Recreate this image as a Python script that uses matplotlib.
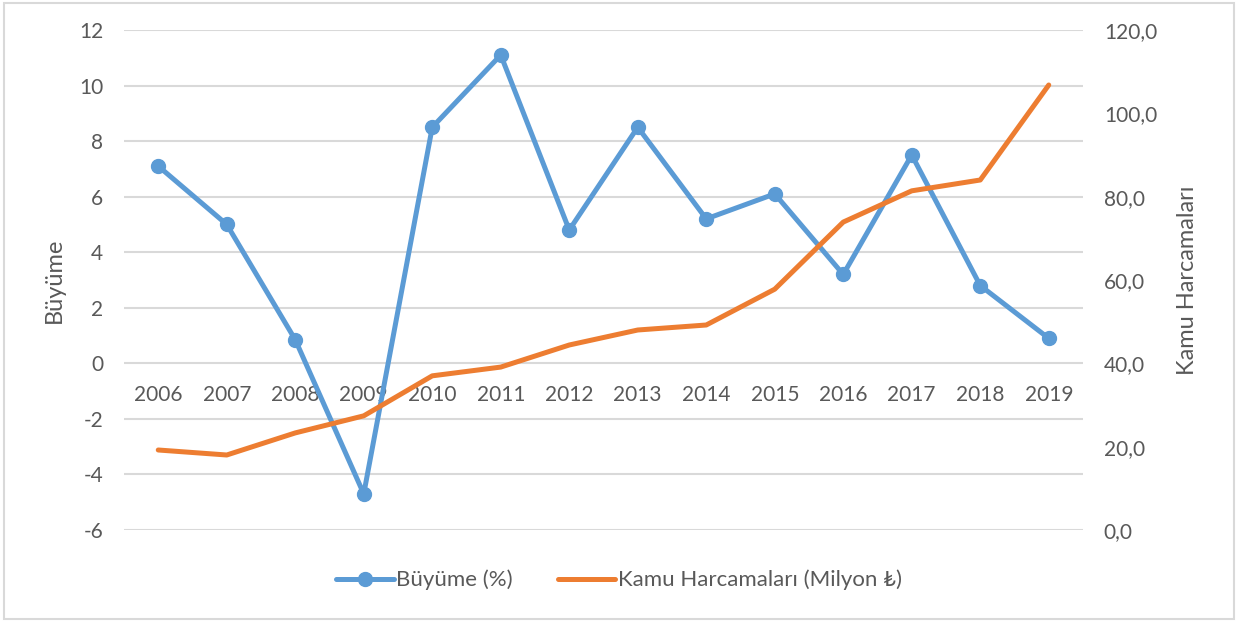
import matplotlib
matplotlib.use("Agg")
import matplotlib.pyplot as plt
from matplotlib.patches import Rectangle
from matplotlib.ticker import FuncFormatter, FixedLocator

plt.rcParams['font.family'] = ['Lato', 'DejaVu Sans']
plt.rcParams['axes.unicode_minus'] = False

years = ['2006', '2007', '2008', '2009', '2010', '2011', '2012',
         '2013', '2014', '2015', '2016', '2017', '2018', '2019']
growth = [7.1, 5.0, 0.85, -4.7, 8.5, 11.1, 4.8, 8.5, 5.2, 6.1, 3.2, 7.5, 2.8, 0.9]
spending = [19.2, 18.0, 23.3, 27.4, 37.0, 39.1, 44.4, 48.0, 49.2, 57.8, 73.9, 81.4, 84.0, 106.8]

left_ticks = [-6, -4, -2, 0, 2, 4, 6, 8, 10, 12]
right_ticks = [0, 20, 40, 60, 80, 100, 120]

blue = '#5b9bd5'
orange = '#ed7d31'
txt = '#595959'
grid = '#d9d9d9'

fig = plt.figure(figsize=(12.38, 6.21), dpi=100)
fig.patches.append(Rectangle((0.003, 0.004), 0.994, 0.991, transform=fig.transFigure,
                             fill=False, edgecolor=grid, linewidth=1.5))

ax = fig.add_axes([124/1238, (621-530)/621, (1083-124)/1238, 500/621])
x = list(range(len(years)))

ax.set_ylim(-6, 12)
ax.set_xlim(-0.5, len(years) - 0.5)
ax.yaxis.set_major_locator(FixedLocator(left_ticks))
for t in left_ticks:
    ax.axhline(t, color=grid, linewidth=1.5, zorder=0)
for s in ax.spines.values():
    s.set_visible(False)
ax.set_xticks([])
ax.tick_params(axis='y', length=0, pad=15, labelsize=15, labelcolor=txt)
ax.set_ylabel('Büyüme', fontsize=17, color=txt, labelpad=10)

for xi, yr in zip(x, years):
    ax.text(xi, -1.15, yr, ha='center', va='center', fontsize=15, color=txt)

ln1, = ax.plot(x, growth, color=blue, linewidth=3.6, marker='o', markersize=10,
               solid_capstyle='round', label='Büyüme (%)', zorder=3)

ax2 = ax.twinx()
ax2.set_ylim(0, 120)
ax2.yaxis.set_major_locator(FixedLocator(right_ticks))
ax2.yaxis.set_major_formatter(FuncFormatter(lambda v, p: f"{v:.1f}".replace('.', ',')))
for s in ax2.spines.values():
    s.set_visible(False)
ax2.tick_params(axis='y', length=0, pad=15, labelsize=15, labelcolor=txt)
ax2.set_ylabel('Kamu Harcamaları', fontsize=17, color=txt, labelpad=14)
ln2, = ax2.plot(x, spending, color=orange, linewidth=3.6, solid_capstyle='round',
                label='Kamu Harcamaları (Milyon ₺)', zorder=3)

fig.legend(handles=[ln1, ln2], loc='center', bbox_to_anchor=(0.5, (621-580)/621),
           ncol=2, frameon=False, fontsize=16, labelcolor=txt, handlelength=2.6,
           handletextpad=0.1, columnspacing=2.0)

fig.savefig('out.png', dpi=100)
